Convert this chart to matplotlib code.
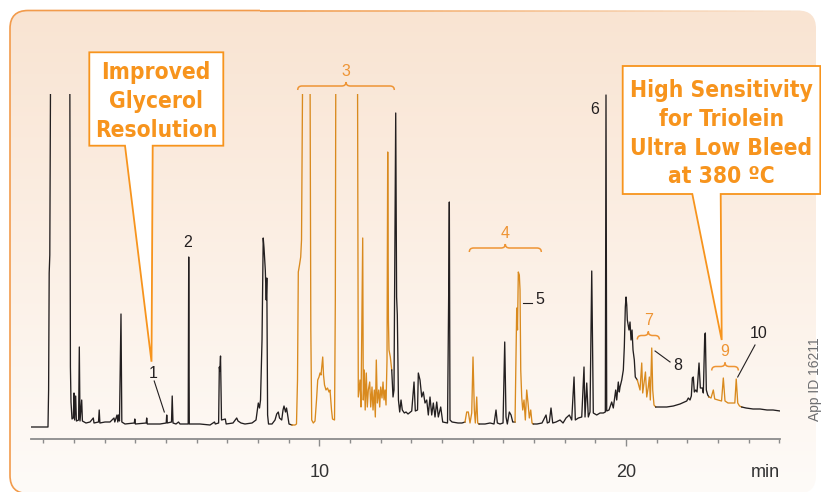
import matplotlib
matplotlib.use("Agg")
import matplotlib.pyplot as plt
import numpy as np
from matplotlib import font_manager as fm
from matplotlib.patches import FancyBboxPatch, Polygon, PathPatch
from matplotlib.path import Path
from matplotlib.collections import LineCollection

plt.rcParams['font.family'] = ['Liberation Sans', 'DejaVu Sans']

# retention time (min) and detector signal
t_early = [0.600, 1.154, 1.174, 1.193, 1.213, 1.239, 1.865, 1.885, 1.904, 1.937,
           1.979, 2.002, 2.022, 2.057, 2.080, 2.152, 2.175, 2.198, 2.253, 2.276,
           2.393, 2.524, 2.631, 2.654, 2.801, 2.824, 2.846, 3.013, 3.176, 3.306,
           3.332, 3.404, 3.430, 3.453, 3.485, 3.534, 3.561, 3.665, 3.968, 3.984,
           4.004, 4.356, 4.372, 4.392, 4.806, 5.008, 5.025, 5.044, 5.181, 5.204,
           5.230, 5.328, 5.409, 5.458, 5.725, 5.742, 5.761, 6.110, 6.436, 6.583,
           6.609, 6.717, 6.740, 6.756, 6.779, 6.811, 6.935, 6.964, 7.186, 7.307,
           7.349, 7.447, 7.577, 7.806, 7.936, 8.011, 8.050, 8.083, 8.132, 8.171,
           8.197, 8.239, 8.269, 8.288, 8.314, 8.344, 8.458, 8.556, 8.611, 8.663,
           8.702, 8.774, 8.817, 8.849, 8.898, 8.931, 8.963, 9.012, 9.110, 9.208]
s_early = [0, 0, 37, 154, 172, 367, 367, 60, 25, 8,
           9, 34, 7, 31, 6, 7, 80, 6, 27, 6,
           4, 5, 9, 4, 5, 17, 4, 5, 5, 9,
           5, 12, 5, 12, 6, 113, 5, 3, 4, 8,
           3, 4, 9, 3, 3, 4, 12, 4, 5, 31,
           4, 3, 5, 3, 3, 170, 3, 3, 2, 5,
           3, 4, 60, 56, 71, 7, 8, 3, 4, 9,
           6, 4, 3, 4, 7, 24, 19, 27, 87, 189,
           179, 157, 127, 149, 12, 3, 3, 7, 13, 15,
           9, 7, 17, 21, 15, 19, 13, 3, 2, 2]

t_fame = [9.256, 9.289, 9.315, 9.354, 9.393, 9.420, 9.459, 9.697, 9.723, 9.752,
          9.804, 9.860, 9.909, 9.948, 9.990, 10.023, 10.055, 10.111, 10.137, 10.170,
          10.218, 10.267, 10.316, 10.349, 10.398, 10.430, 10.496, 10.522, 10.538, 11.245,
          11.271, 11.327, 11.359, 11.415, 11.434, 11.467, 11.496, 11.532, 11.565, 11.598,
          11.643, 11.676, 11.718, 11.751, 11.793, 11.826, 11.858, 11.891, 11.937, 11.969,
          12.002, 12.044, 12.077, 12.110, 12.142, 12.175, 12.207, 12.230, 12.253, 12.272,
          12.315, 12.361, 12.403, 12.435, 12.491, 12.520, 12.543, 12.580, 12.621, 12.664,
          12.706, 12.772]
s_fame = [3, 47, 155, 162, 170, 187, 367, 367, 97, 7,
          4, 6, 27, 47, 50, 54, 52, 70, 52, 42,
          37, 39, 35, 37, 17, 8, 7, 127, 367, 367,
          30, 47, 20, 189, 27, 57, 17, 54, 20, 37,
          45, 20, 40, 17, 37, 10, 67, 24, 37, 20,
          40, 29, 45, 27, 37, 22, 67, 275, 107, 77,
          70, 57, 30, 37, 314, 130, 112, 27, 15, 27,
          17, 14]

t_mid = [12.827, 12.892, 13.013, 13.088, 13.130, 13.202, 13.228, 13.283, 13.339, 13.391,
         13.446, 13.502, 13.554, 13.609, 13.665, 13.717, 13.772, 13.828, 13.880, 13.958,
         14.023, 14.180, 14.216, 14.239, 14.261, 14.327, 14.522, 14.652, 14.750, 14.806,
         14.858, 14.913, 14.969, 15.011, 15.054, 15.087, 15.132, 15.164, 15.208, 15.403,
         15.566, 15.696, 15.761, 15.804, 15.892, 15.990, 16.045, 16.087, 16.130, 16.195,
         16.251, 16.306, 16.381, 16.436, 16.462, 16.488, 16.521, 16.544, 16.567, 16.599,
         16.632, 16.674, 16.717, 16.762, 16.805, 16.847, 16.893, 16.935, 16.977, 17.098,
         17.261, 17.392, 17.434, 17.499, 17.554, 17.610, 17.718, 17.848]
s_mid = [15, 13, 16, 45, 16, 17, 54, 47, 30, 35,
         24, 27, 12, 30, 12, 24, 10, 25, 10, 20,
         5, 4, 127, 225, 7, 5, 4, 4, 5, 15,
         15, 4, 14, 70, 17, 4, 30, 4, 3, 3,
         4, 3, 17, 4, 3, 4, 85, 10, 3, 15,
         12, 5, 5, 119, 97, 155, 152, 137, 57, 30,
         17, 27, 7, 37, 24, 9, 17, 4, 3, 3,
         4, 12, 4, 5, 19, 4, 5, 7]

t_late = [17.946, 18.044, 18.151, 18.229, 18.305, 18.347, 18.445, 18.556, 18.630, 18.663,
          18.719, 18.770, 18.826, 18.882, 18.933, 19.044, 19.152, 19.260, 19.325, 19.347,
          19.370, 19.445, 19.533, 19.585, 19.663, 19.696, 19.748, 19.781, 19.804, 19.860,
          19.912, 19.944, 19.977, 20.000, 20.023, 20.042, 20.097, 20.130, 20.163, 20.196,
          20.228, 20.270, 20.302, 20.368, 20.456, 20.512, 20.544, 20.587, 20.633, 20.675,
          20.726, 20.760, 20.792, 20.838, 20.870, 20.912, 20.968, 21.108, 21.327, 21.542,
          21.760, 21.979, 22.031, 22.086, 22.129, 22.162, 22.194, 22.227, 22.273, 22.315,
          22.380, 22.423, 22.488, 22.520, 22.566, 22.586, 22.618, 22.663, 22.706, 22.771,
          22.846, 22.892, 23.000, 23.114, 23.172, 23.227, 23.325, 23.456, 23.547, 23.593,
          23.642, 23.700, 23.772, 23.912, 24.141, 24.369, 24.597, 24.793, 25.021]
s_late = [4, 9, 12, 7, 50, 7, 9, 10, 60, 10,
          44, 10, 15, 156, 14, 12, 14, 14, 15, 332,
          16, 17, 25, 19, 37, 27, 45, 35, 40, 47,
          57, 80, 120, 130, 122, 107, 97, 105, 87, 97,
          77, 67, 50, 47, 37, 64, 34, 44, 55, 30,
          40, 50, 27, 79, 37, 22, 20, 20, 20, 21,
          23, 26, 29, 27, 31, 49, 50, 35, 37, 35,
          64, 39, 39, 34, 92, 94, 37, 32, 30, 29,
          37, 28, 27, 26, 49, 26, 24, 24, 24, 48,
          24, 21, 20, 19, 18, 18, 17, 17, 16]

# highlighted (orange) parts of the trace
orange_spans = [(9.10, 12.38), (14.77, 15.22), (16.37, 16.98), (20.35, 20.97), (22.70, 23.77)]

# single peak numbers: label position and leader line
peak_names = ["1", "2", "5", "6", "8", "10"]
peak_text_t = [4.568, 5.696, 17.173, 18.966, 21.672, 24.326]
peak_text_s = [54, 185, 128, 318, 61, 94]
leaders = {"1": [(4.617, 46), (4.946, 15)],
           "5": [(16.632, 124), (16.925, 124)],
           "8": [(20.946, 76), (21.435, 65)],
           "10": [(24.205, 82), (23.641, 50)]}

# peak groups marked by a brace
group_names = ["3", "4", "7", "9"]
group_start = [9.296, 14.891, 20.368, 22.794]
group_end = [12.445, 17.238, 21.086, 23.661]
group_level = [341, 179, 91.5, 60.5]

major_ticks = [10, 20]
minor_ticks = list(range(1, 26))

left_lines = ['Improved', 'Glycerol', 'Resolution']
right_lines = ['High Sensitivity', 'for Triolein', 'Ultra Low Bleed', 'at 380 ºC']

black = '#231f20'
trace_orange = '#D98A1E'
label_orange = '#EE9434'
callout_orange = '#F7941D'

fig = plt.figure(figsize=(8.21, 4.92), dpi=100)

# background panel
bg = fig.add_axes([0, 0, 1, 1], zorder=0)
bg.set_xlim(0, 821)
bg.set_ylim(492, 0)
bg.axis('off')
top_c = np.array([249, 228, 210]) / 255
bot_c = np.array([254, 251, 248]) / 255
g = np.linspace(0, 1, 256).reshape(-1, 1, 1)
img = top_c * (1 - g) + bot_c * g
im = bg.imshow(img, extent=(9.5, 818, 494, 10.5), aspect='auto', interpolation='bilinear')
panel = FancyBboxPatch((10, 10.5), 806, 483, boxstyle='round,pad=0,rounding_size=18',
                       fc='none', ec='none', transform=bg.transData)
bg.add_patch(panel)
im.set_clip_path(panel)
r = 18
border = Path([(10 + r, 493.5), (10, 493.5), (10, 493.5 - r), (10, 10.5 + r), (10, 10.5), (10 + r, 10.5), (260, 10.5)],
              [Path.MOVETO, Path.CURVE3, Path.CURVE3, Path.LINETO, Path.CURVE3, Path.CURVE3, Path.LINETO])
bg.add_patch(PathPatch(border, fc='none', ec='#F29B4C', lw=1.2))
xs = np.linspace(260, 800, 60)
segs = [[(xs[i], 10.5), (xs[i + 1], 10.5)] for i in range(len(xs) - 1)]
fade = [(0.95, 0.61, 0.30, 1 - i / len(segs)) for i in range(len(segs))]
bg.add_collection(LineCollection(segs, colors=fade, lw=1.2))

# chromatogram
ax = fig.add_axes([31 / 821, (492 - 439) / 492, (780 - 31) / 821, (439 - 94) / 492], zorder=1)
ax.patch.set_visible(False)
t = np.array(t_early + t_fame + t_mid + t_late)
s = np.array(s_early + s_fame + s_mid + s_late)
mid = (t[:-1] + t[1:]) / 2
hot = np.zeros(len(mid), dtype=bool)
for a, b in orange_spans:
    hot |= (mid > a) & (mid < b)
start = 0
for i in range(1, len(mid) + 1):
    if i == len(mid) or hot[i] != hot[start]:
        ax.plot(t[start:i + 1], s[start:i + 1], color=trace_orange if hot[start] else black,
                lw=0.95, solid_joinstyle='round')
        start = i

ax.set_xlim(0.6, 25.02)
ax.set_ylim(-12, 333)
for side in ['top', 'left', 'right']:
    ax.spines[side].set_visible(False)
ax.spines['bottom'].set_color('#8c8c8c')
ax.spines['bottom'].set_linewidth(1.3)
ax.set_yticks([])
ax.set_xticks(major_ticks)
ax.set_xticklabels([str(v) for v in major_ticks])
ax.set_xticks(minor_ticks, minor=True)
ax.tick_params(axis='x', which='major', length=5, width=1, color='#8c8c8c',
               pad=13, labelsize=13, labelcolor='#333333')
ax.tick_params(axis='x', which='minor', length=2.6, width=1, color='#8c8c8c')
ax.text(25.02, -0.096, 'min', transform=ax.get_xaxis_transform(), ha='right', va='center',
        fontsize=13, color='#333333')

for name, tt, ss in zip(peak_names, peak_text_t, peak_text_s):
    ax.text(tt, ss, name, ha='center', va='center', fontsize=11.5, color=black, clip_on=False)
    if name in leaders:
        (x0, y0), (x1, y1) = leaders[name]
        ax.plot([x0, x1], [y0, y1], color=black, lw=0.8, clip_on=False)


def brace(t0, t1, lev, color):
    h, dx = 4, 0.14
    tm = (t0 + t1) / 2
    verts = [(t0, lev - h), (t0, lev), (t0 + dx, lev), (tm - dx, lev), (tm, lev), (tm, lev + h),
             (tm, lev), (tm + dx, lev), (t1 - dx, lev), (t1, lev), (t1, lev - h)]
    codes = [Path.MOVETO, Path.CURVE3, Path.CURVE3, Path.LINETO, Path.CURVE3, Path.CURVE3,
             Path.CURVE3, Path.CURVE3, Path.LINETO, Path.CURVE3, Path.CURVE3]
    ax.add_patch(PathPatch(Path(verts, codes), fc='none', ec=color, lw=1.1, clip_on=False))


for name, a, b, lev in zip(group_names, group_start, group_end, group_level):
    brace(a, b, lev, label_orange)
    ax.text((a + b) / 2, lev + 15, name, ha='center', va='center', fontsize=11.5,
            color=label_orange, clip_on=False)

# callouts
ov = fig.add_axes([0, 0, 1, 1], zorder=3)
ov.set_xlim(0, 821)
ov.set_ylim(492, 0)
ov.axis('off')
ov.patch.set_visible(False)
left_box = [(89.3, 52.3), (223.3, 52.3), (223.3, 145.7), (152.7, 145.7), (151.5, 361.7),
            (125, 145.7), (89.3, 145.7)]
right_box = [(622.7, 66), (820.3, 66), (820.3, 194), (720.7, 194), (721.7, 340),
             (692.3, 194), (622.7, 194)]
for pts in [left_box, right_box]:
    ov.add_patch(Polygon(pts, closed=True, fc='white', ec=callout_orange, lw=1.3, joinstyle='miter'))


def bold_condensed():
    # prefer a condensed bold face if one is installed
    for f in fm.fontManager.ttflist:
        w = f.weight if isinstance(f.weight, int) else fm.weight_dict.get(f.weight, 400)
        if 'condensed' in str(f.stretch) and w >= 600:
            return fm.FontProperties(fname=f.fname)
    return fm.FontProperties(family=['Roboto', 'Liberation Sans', 'DejaVu Sans'], weight='bold')


callout_font = bold_condensed()
callout_texts = []
for lines, ys, cx, target in [(left_lines, [79, 108, 137], 156.3, 122),
                              (right_lines, [96.7, 125.7, 155, 183.3], 721.5, 182)]:
    items = [ov.text(cx, y, line, ha='center', va='baseline', fontproperties=callout_font,
                     fontsize=19, color=callout_orange) for line, y in zip(lines, ys)]
    callout_texts.append((items, target))

fig.canvas.draw()
rend = fig.canvas.get_renderer()
for items, target in callout_texts:
    widest = max(it.get_window_extent(rend).width for it in items)
    size = 19 * min(1.05, target / widest)
    for it in items:
        it.set_fontsize(size)

ov.text(815.3, 379, 'App ID 16211', rotation=90, ha='center', va='center', fontsize=10, color='#6d6e71')

fig.savefig('out.png', dpi=100)
